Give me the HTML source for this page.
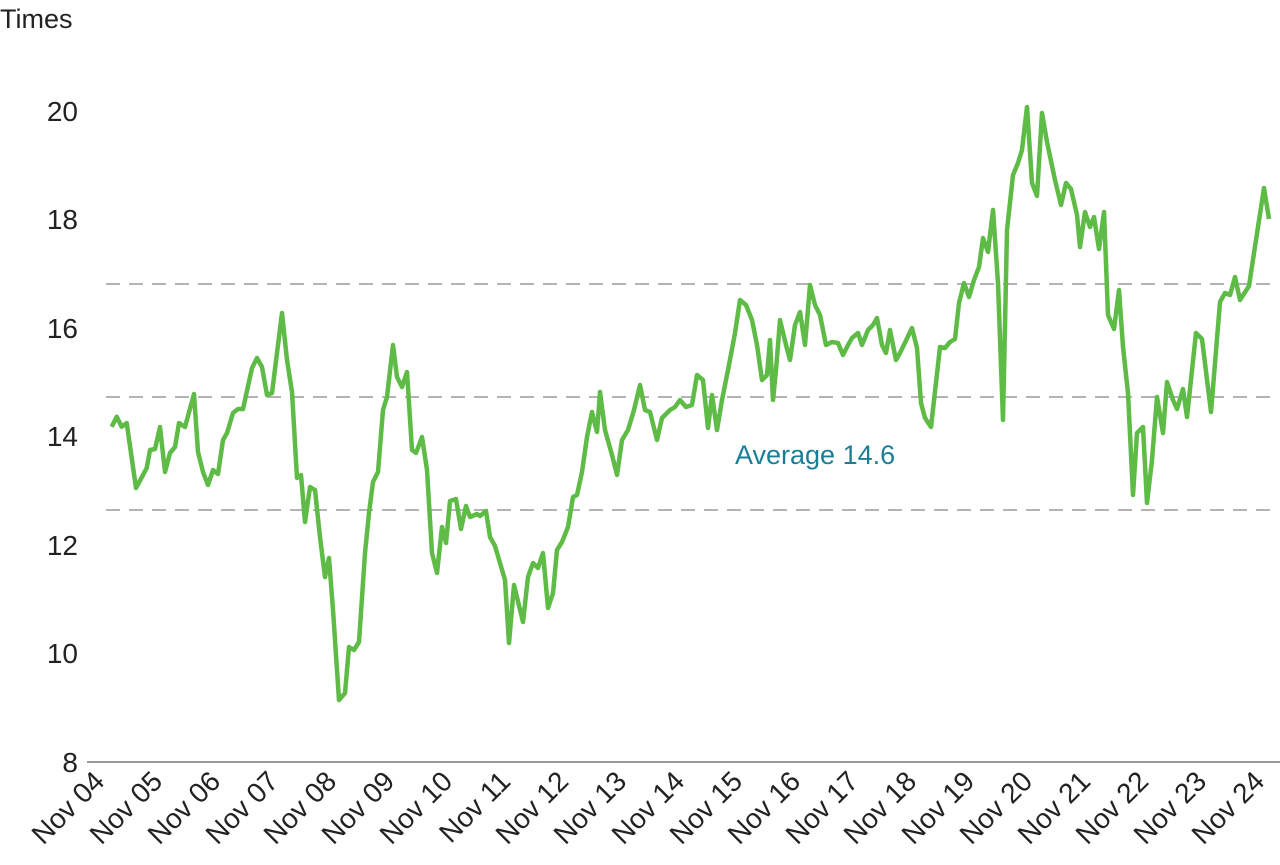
<!DOCTYPE html>
<html><head><meta charset="utf-8"><style>
html,body{margin:0;padding:0;background:#fff;}
svg text{font-family:"Liberation Sans",Arial,sans-serif;}
</style></head><body>
<svg width="1280" height="860" viewBox="0 0 1280 860" xmlns="http://www.w3.org/2000/svg">
<rect width="1280" height="860" fill="#fff"/>
<text x="0" y="28" font-size="27" fill="#222">Times</text>
<g font-size="28" fill="#222" text-anchor="end">
<text x="78" y="772">8</text>
<text x="78" y="663">10</text>
<text x="78" y="555">12</text>
<text x="78" y="446">14</text>
<text x="78" y="338">16</text>
<text x="78" y="229">18</text>
<text x="78" y="121">20</text>
</g>
<line x1="87" y1="762" x2="1280" y2="762" stroke="#999" stroke-width="2"/>
<g stroke="#b3b3b3" stroke-width="2" stroke-dasharray="14,9">
<line x1="106" y1="284" x2="1270" y2="284"/>
<line x1="106" y1="397" x2="1270" y2="397"/>
<line x1="106" y1="510" x2="1270" y2="510"/>
</g>
<text x="735" y="464" font-size="27" fill="#1a7f95">Average 14.6</text>
<polyline fill="none" stroke="#5dbb46" stroke-width="4.5" stroke-linejoin="round" points="
111.7,426.7 116.7,416.7 121.7,426.7 126.7,423 136,488 143,475 146.7,468 150,450 155,449 160,427 165,472 170,453 175,447 179,423 185,427 194,394 198,452 203,472 208,485 213,470 218,474 223,440 227,433 233,413 238,409 243,409 252,368 257,358 262,367 267,395 272,393 282,313 287,360 292,392 297,478 301,475 305,522 310,487 315,490 320,537 325,577 329,558 333,610 339,700 345,693 349,647 354,650 359,642 365,553 369,513 373,482 378,472 383,410 387,397 393,345 397,377 402,387 407,372 412,450 416,453 422,437 427,470 432,553 437,573 442,527 446,543 450,501 456,499 461,529 466,506 470,517 477,514 480,516 486,511 490,537 495,546 505,580 509,643 514,585 523,622 528,577 533,563 538,568 543,553 548,608 553,593 557,550 562,542 568,527 573,497 577,495 582,472 587,437 592,412 597,432 600,392 605,430 612,455 617,475 622,440 628,430 634,410 640,385 645,410 650,412 657,440 662,418 670,410 675,407 680,400 686,407 692,405 697,375 703,380 708,428 712,395 717,430 722,400 729,365 735,333 740,300 746,305 752,320 757,345 762,380 767,375 770,340 773,400 776,370 780,320 786,345 790,360 795,325 800,312 805,345 810,285 815,305 820,315 826,345 832,342 838,343 843,355 848,345 852,338 858,333 862,345 868,330 873,325 877,318 882,345 886,353 890,330 896,360 900,353 912,328 917,348 921,403 925,418 931,427 940,347 945,348 950,342 955,339 959,303 964,283 969,297 974,280 979,267 983,238 988,252 993,210 998,283 1003,420 1007,230 1013,175 1018,163 1022,150 1027,107 1032,183 1037,196 1042,113 1047,142 1055,180 1061,205 1066,183 1071,189 1077,215 1080,247 1085,212 1090,227 1094,217 1099,249 1104,212 1108,315 1114,329 1119,290 1123,347 1128,393 1133,495 1137,433 1143,427 1147,503 1152,460 1157,397 1163,433 1167,382 1173,400 1177,409 1183,389 1187,417 1196,333 1202,339 1211,412 1220,302 1225,293 1230,295 1235,277 1240,300 1249,286 1254,253 1264,188 1269,219"/>
<g font-size="28" fill="#222" text-anchor="end">
<text transform="translate(106,783) rotate(-45)">Nov 04</text>
<text transform="translate(164,783) rotate(-45)">Nov 05</text>
<text transform="translate(222,783) rotate(-45)">Nov 06</text>
<text transform="translate(280,783) rotate(-45)">Nov 07</text>
<text transform="translate(338,783) rotate(-45)">Nov 08</text>
<text transform="translate(396,783) rotate(-45)">Nov 09</text>
<text transform="translate(454,783) rotate(-45)">Nov 10</text>
<text transform="translate(512,783) rotate(-45)">Nov 11</text>
<text transform="translate(570,783) rotate(-45)">Nov 12</text>
<text transform="translate(628,783) rotate(-45)">Nov 13</text>
<text transform="translate(686,783) rotate(-45)">Nov 14</text>
<text transform="translate(744,783) rotate(-45)">Nov 15</text>
<text transform="translate(802,783) rotate(-45)">Nov 16</text>
<text transform="translate(860,783) rotate(-45)">Nov 17</text>
<text transform="translate(918,783) rotate(-45)">Nov 18</text>
<text transform="translate(976,783) rotate(-45)">Nov 19</text>
<text transform="translate(1034,783) rotate(-45)">Nov 20</text>
<text transform="translate(1092,783) rotate(-45)">Nov 21</text>
<text transform="translate(1150,783) rotate(-45)">Nov 22</text>
<text transform="translate(1208,783) rotate(-45)">Nov 23</text>
<text transform="translate(1266,783) rotate(-45)">Nov 24</text>
</g>
</svg>
</body></html>
